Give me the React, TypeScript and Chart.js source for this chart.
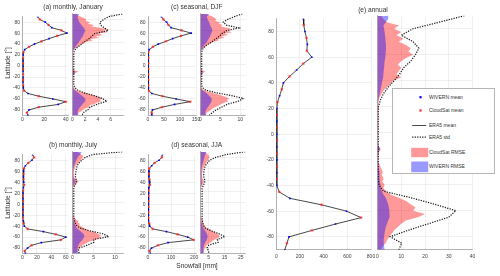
import React, { useEffect, useRef } from "react";
import { Chart, registerables } from "chart.js";

Chart.register(...registerables);

const FONT = "'Liberation Sans', Arial, Helvetica, sans-serif";

// ---------------- data ----------------
const LAT5 = [90, 85, 80, 75, 70, 65, 60, 55, 50, 45, 40, 35, 30, 25, 20, 15, 10, 5, 0, -5, -10, -15, -20, -25, -30, -35, -40, -45, -50, -55, -60, -65, -70, -75, -80, -85, -90];
const LAT25 = [90, 87.5, 85, 82.5, 80, 77.5, 75, 72.5, 70, 67.5, 65, 62.5, 60, 57.5, 55, 52.5, 50, 47.5, 45, 42.5, 40, 37.5, 35, 32.5, 30, 27.5, 25, 22.5, 20, 17.5, 15, 12.5, 10, 7.5, 5, 2.5, 0, -2.5, -5, -7.5, -10, -12.5, -15, -17.5, -20, -22.5, -25, -27.5, -30, -32.5, -35, -37.5, -40, -42.5, -45, -47.5, -50, -52.5, -55, -57.5, -60, -62.5, -65, -67.5, -70, -72.5, -75, -77.5, -80, -82.5, -85, -87.5, -90];
const LAT_TICKS = [-80, -60, -40, -20, 0, 20, 40, 60, 80];

// (a) monthly, January
const JAN_MEAN = [14, 16, 21, 24, 27, 36, 41, 32, 24.5, 17.5, 11, 6, 2, 0.8, 0.5, 0.4, 0.4, 0.4, 0.4, 0.4, 0.4, 0.5, 0.4, 0.4, 0.4, 0.5, 0.7, 1.5, 5, 15, 28, 40, 33, 15, 6, 4, 5];
const JAN_STD = [7.8, 5.7, 4.9, 4.3, 4.4, 5.0, 5.6, 3.5, 3.0, 2.5, 1.8, 1.3, 0.7, 0.3, 0.2, 0.2, 0.2, 0.2, 0.2, 0.2, 0.2, 0.2, 0.2, 0.2, 0.2, 0.2, 0.3, 0.8, 1.8, 3.4, 4.7, 5.4, 3.9, 2.8, 2.4, 1.7, 1.5];
const JAN_RMSE_CS = [0.5, 0.8, 1.2, 1.8, 2.2, 2.0, 2.8, 2.4, 3.4, 3.0, 4.5, 5.8, 4.8, 5.5, 4.0, 4.8, 3.6, 4.2, 2.8, 3.2, 2.0, 1.8, 1.2, 1.0, 0.6, 0.3, 0.15,
  0.1, 0.1, 0.1, 0.1, 0.1, 0.1, 0.1, 0.1, 0.1, 0.1, 0.1, 0.1, 0.1,
  0.3, 1.0, 0.4, 0.1, 0.1, 0.1, 0.1, 0.1, 0.1, 0.1, 0.1, 0.15, 0.2, 0.3, 0.6, 1.2, 2.0, 2.8, 3.6, 4.2, 4.8, 4.2, 4.6, 3.8, 3.4, 2.6, 2.8, 2.0, 1.6, 1.4, 1.0, 0.8, 0.6];
const JAN_RMSE_WV = [1.1, 0.8, 0.9, 1.1, 1.4, 1.8, 2.0, 1.8, 1.6, 1.3, 1.0, 0.7, 0.4, 0.15, 0.05, 0.05, 0.05, 0.05, 0.05, 0.05, 0.15, 0.4, 0.05, 0.05, 0.05, 0.05, 0.1, 0.3, 0.9, 1.5, 2.0, 2.0, 1.6, 1.2, 0.9, 0.8, 1.0];
const JAN_X_TICKS = [0, 20, 40];
const JAN_R_TICKS = [0, 2, 4, 6];

// (b) monthly, July
const JUL_MEAN = [14, 16, 13, 8, 4, 2, 1.3, 1.2, 1.2, 1.3, 1.8, 2.2, 1.2, 0.6, 0.4, 0.4, 0.4, 0.4, 0.4, 0.4, 0.4, 0.4, 0.4, 0.5, 0.8, 1.6, 2.5, 7, 29, 46, 60, 53, 26, 12.5, 7, 3, 4];
const JUL_STD = [11.7, 4.8, 3.0, 2.2, 1.5, 1.1, 0.9, 0.8, 0.7, 0.7, 0.9, 0.9, 0.5, 0.3, 0.3, 0.3, 0.3, 0.3, 0.3, 0.3, 0.3, 0.3, 0.3, 0.3, 0.4, 0.6, 0.9, 1.8, 4.2, 7.2, 8.5, 5.0, 5.0, 3.5, 1.6, 1.4, 1.6];
const JUL_RMSE_CS = [1.0, 1.6, 2.0, 2.6, 2.4, 2.2, 2.0, 1.6, 1.4, 1.0, 0.8, 0.6, 0.5, 0.4, 0.3, 0.3, 0.3, 0.4, 0.4, 0.6, 1.0, 1.4, 1.1, 0.6, 0.5, 0.2, 0.1,
  0.1, 0.1, 0.1, 0.1, 0.1, 0.1, 0.1, 0.1, 0.1, 0.1, 0.1, 0.1, 0.1,
  0.1, 0.1, 0.1, 0.1, 0.1, 0.2, 0.3, 0.6, 0.8, 1.4, 1.2, 1.8, 1.5, 2.2, 2.8, 3.4, 4.0, 5.2, 6.0, 6.8, 6.2, 7.0, 5.4, 4.6, 3.6, 3.0, 2.4, 2.0, 1.6, 1.4, 1.2, 1.0, 0.9];
const JUL_RMSE_WV = [2.2, 1.8, 1.2, 0.9, 0.6, 0.4, 0.2, 0.15, 0.15, 0.2, 0.5, 0.6, 0.2, 0.05, 0.05, 0.05, 0.05, 0.05, 0.05, 0.05, 0.05, 0.05, 0.05, 0.05, 0.2, 0.4, 0.6, 1.0, 1.8, 2.6, 2.8, 2.4, 1.8, 1.4, 1.2, 1.2, 1.5];
const JUL_X_TICKS = [0, 20, 40, 60];
const JUL_R_TICKS = [0, 5, 10];

// (c) seasonal, DJF
const DJF_MEAN = [42, 48, 58, 64, 72, 105, 135, 103, 77, 56, 32, 15, 4, 1.5, 1, 1, 1, 1, 1, 1, 1, 1, 1, 1, 1, 1, 1.5, 3, 12, 45, 88, 132, 83, 44, 14, 11, 12];
const DJF_STD = [10.5, 8.5, 6.8, 5.7, 6.5, 9.6, 6.5, 5.4, 4.7, 3.8, 2.8, 1.6, 0.8, 0.4, 0.3, 0.3, 0.3, 0.3, 0.3, 0.3, 0.3, 0.3, 0.3, 0.3, 0.3, 0.3, 0.4, 1.2, 4.0, 7.8, 10.8, 9.4, 6.8, 5.4, 4.0, 3.0, 2.2];
const DJF_RMSE_CS = [1.2, 2.2, 3.0, 3.6, 4.0, 3.6, 5.0, 4.6, 5.6, 5.0, 7.0, 7.8, 6.6, 8.0, 6.0, 7.0, 5.2, 6.0, 4.4, 4.6, 3.0, 2.6, 1.8, 1.4, 0.8, 0.4, 0.2,
  0.15, 0.15, 0.15, 0.15, 0.15, 0.15, 0.15, 0.15, 0.15, 0.15, 0.15, 0.15, 0.15,
  0.4, 1.3, 0.5, 0.2, 0.15, 0.15, 0.15, 0.15, 0.2, 0.2, 0.2, 0.3, 0.3, 0.4, 0.8, 1.8, 3.0, 4.2, 5.5, 6.4, 7.2, 6.6, 7.0, 6.0, 5.2, 4.6, 3.8, 3.2, 2.6, 2.2, 1.6, 1.4, 1.2];
const DJF_RMSE_WV = [2.2, 1.6, 1.8, 2.2, 2.4, 2.8, 3.0, 2.7, 2.4, 2.0, 1.6, 1.0, 0.5, 0.2, 0.1, 0.1, 0.1, 0.1, 0.1, 0.1, 0.2, 0.6, 0.1, 0.1, 0.1, 0.1, 0.15, 0.4, 1.4, 2.2, 2.8, 2.8, 2.4, 1.9, 1.4, 1.2, 1.4];
const DJF_X_TICKS = [0, 50, 100, 150];
const DJF_R_TICKS = [0, 5, 10];

// (d) seasonal, JJA
const JJA_MEAN = [62, 60, 48, 28, 16, 6, 4, 4, 4, 5, 7, 8, 4, 2, 2, 2, 2, 2, 2, 2, 2, 2, 2, 2, 2.5, 5, 7, 20, 80, 128, 172, 198, 87, 43, 15, 7, 10];
const JJA_STD = [28, 16, 9.5, 5.8, 4.2, 2.9, 2.4, 2.1, 2.0, 2.1, 2.6, 2.6, 1.6, 1.0, 1.0, 1.0, 1.0, 1.0, 1.0, 1.0, 1.0, 1.0, 1.0, 1.0, 1.1, 1.4, 1.8, 3.0, 7.0, 11.5, 15.2, 10.5, 11.0, 5.2, 4.0, 5.0, 5.2];
const JJA_RMSE_CS = [2.5, 3.5, 4.5, 5.5, 5.5, 5.0, 5.0, 4.0, 3.5, 3.0, 2.4, 2.0, 1.5, 1.2, 1.0, 1.0, 0.9, 1.0, 1.0, 1.4, 1.8, 2.2, 2.0, 1.4, 1.0, 0.5, 0.3,
  0.2, 0.2, 0.2, 0.2, 0.2, 0.2, 0.2, 0.2, 0.2, 0.2, 0.2, 0.2, 0.2,
  0.2, 0.3, 0.2, 0.2, 0.2, 0.3, 0.5, 0.8, 1.0, 1.4, 1.6, 2.0, 2.2, 3.0, 4.0, 5.5, 7.5, 9.0, 10.5, 11.5, 12.0, 11.0, 9.0, 7.5, 6.5, 5.0, 4.0, 3.4, 2.8, 2.4, 2.0, 1.8, 1.8];
const JJA_RMSE_WV = [3.6, 3.0, 2.4, 2.0, 1.5, 1.0, 0.6, 0.5, 0.5, 0.5, 0.9, 1.0, 0.5, 0.2, 0.1, 0.1, 0.1, 0.1, 0.1, 0.1, 0.1, 0.1, 0.1, 0.1, 0.4, 0.7, 1.0, 1.8, 3.0, 4.0, 4.5, 4.0, 3.0, 2.2, 1.8, 1.8, 2.0];
const JJA_X_TICKS = [0, 100, 200];
const JJA_R_TICKS = [5, 15, 25];

// (e) annual
const ANN_MEAN = [228, 232, 242, 255, 262, 258, 300, 228, 172, 112, 60, 46, 28, 10, 5, 4, 4, 4, 4, 4, 4, 4, 4, 4, 4, 4, 5, 25, 115, 382, 594, 716, 500, 300, 107, 90, 72];
const ANN_STD = [36.6, 26, 15, 10, 15, 17.4, 16, 14, 11, 9.3, 7, 4.5, 2.5, 1.2, 0.4, 0.3, 0.3, 0.3, 0.3, 0.3, 0.3, 0.3, 0.3, 0.3, 0.3, 0.3, 0.6, 2.5, 14, 24, 33, 30, 21.5, 13, 5.3, 10.2, 9];
const ANN_RMSE_CS = [1.5, 2.5, 4, 9, 7, 10, 8, 11, 9, 12, 14, 13, 15, 12, 10, 8.5, 10, 9, 8, 10, 6.5, 5.5, 4, 2.5, 1.8, 1.0, 0.5,
  0.3, 0.3, 0.3, 0.3, 0.3, 0.3, 0.3, 0.3, 0.3, 0.3, 0.3, 0.3, 0.3,
  0.6, 1.4, 0.6, 0.3, 0.3, 0.6, 1.0, 1.5, 2.2, 1.8, 2.6, 2.0, 3.0, 2.4, 3.8, 5.5, 9, 12, 14, 16, 15, 20, 17, 12, 10, 8.5, 7, 6, 5, 4, 3.5, 2, 1.5];
const ANN_RMSE_WV = [4.5, 4.5, 3.5, 2.5, 2.8, 3.0, 3.2, 3.4, 3.5, 3.6, 3.6, 3.5, 3.4, 3.2, 3.0, 2.8, 2.8, 2.6, 2.4, 2.4, 2.0, 1.8, 1.5, 1.2, 0.9, 0.6, 0.3,
  0.2, 0.2, 0.2, 0.2, 0.2, 0.2, 0.2, 0.2, 0.2, 0.2, 0.2, 0.2, 0.2,
  0.4, 1.1, 0.4, 0.2, 0.2, 0.3, 0.4, 0.6, 0.8, 0.8, 1.0, 1.0, 1.2, 1.3, 1.8, 2.5, 3.5, 4.0, 4.5, 4.8, 5.0, 5.2, 5.0, 4.5, 4.0, 3.5, 3.2, 3.0, 2.8, 2.6, 2.6, 2.8, 3.0];
const ANN_X_TICKS = [0, 200, 400, 600, 800];
const ANN_R_TICKS = [0, 10, 20, 30, 40];

// ---------------- styles ----------------
const C_MEAN = "#1a1a1a";
const C_WV_MARK = "#0000ff";
const C_CS_MARK = "#ff2a2a";
const C_CS_FILL = "rgba(255,0,0,0.4)";
const C_WV_FILL = "rgba(0,0,255,0.4)";
const GRID = "#e6e6e6";
const AXIS = "#a0a0a0";
const TICK = "#404040";

type Box = { x: number; y: number; w: number; h: number };

function geom(box: Box, LM: number, R: number, BM: number) {
  const cx = Math.floor(box.x - LM);
  const cy = Math.floor(box.y - 1);
  const cw = Math.ceil(box.x + box.w + R) - cx;
  const ch = Math.ceil(box.y + box.h + BM) - cy;
  return {
    cx, cy, cw, ch,
    pl: box.x - LM - cx,
    pt: box.y - cy,
    pr: cx + cw - (box.x + box.w),
    pb: cy + ch - (box.y + box.h + BM),
  };
}

function Axes(props: { box: Box; left: boolean; xMax: number; xTicks: number[]; datasets: any[]; tickPad: number }) {
  const ref = useRef<HTMLCanvasElement | null>(null);
  const LM = props.left ? 20 : 3;
  const R = 7;
  const BM = 10;
  const g = geom(props.box, LM, R, BM);
  useEffect(() => {
    const chart = new Chart(ref.current as HTMLCanvasElement, {
      type: "line",
      data: { datasets: props.datasets },
      options: {
        indexAxis: "y",
        responsive: false,
        animation: false,
        devicePixelRatio: 1,
        events: [],
        layout: { padding: { left: g.pl, top: g.pt, right: g.pr, bottom: g.pb } },
        plugins: { legend: { display: false }, title: { display: false }, tooltip: { enabled: false }, filler: { propagate: false } },
        scales: {
          x: {
            type: "linear",
            position: "bottom",
            min: 0,
            max: props.xMax,
            offset: false,
            afterBuildTicks: (s: any) => { s.ticks = props.xTicks.map((v) => ({ value: v })); },
            afterFit: (s: any) => { s.height = BM; s.paddingLeft = 0; s.paddingRight = 0; },
            ticks: { font: { size: 5, family: FONT }, color: TICK, padding: props.tickPad, autoSkip: false, maxRotation: 0 },
            grid: { color: GRID, lineWidth: 0.6, drawTicks: false, offset: false },
            border: { color: AXIS, width: 0.8 },
          },
          y: {
            type: "linear",
            position: "left",
            min: -90,
            max: 90,
            offset: false,
            afterBuildTicks: (s: any) => { s.ticks = LAT_TICKS.map((v) => ({ value: v })); },
            afterFit: (s: any) => { s.width = LM; s.paddingTop = 0; s.paddingBottom = 0; },
            ticks: { display: props.left, font: { size: 5, family: FONT }, color: TICK, padding: 2.5, autoSkip: false },
            grid: { color: GRID, lineWidth: 0.6, drawTicks: false, offset: false },
            border: { color: AXIS, width: 0.8 },
          },
        },
      } as any,
    });
    return () => chart.destroy();
  }, []);
  return (
    <canvas
      ref={ref}
      width={g.cw}
      height={g.ch}
      style={{ position: "absolute", left: g.cx, top: g.cy, width: g.cw, height: g.ch }}
    />
  );
}

function meanSets(lat: number[], mean: number[]) {
  const pts = lat.map((y, i) => ({ x: mean[i], y }));
  return [
    { data: pts, borderColor: C_MEAN, borderWidth: 0.8, pointRadius: 0, fill: false, order: 3 },
    {
      showLine: false, data: lat.map((y, i) => ({ x: mean[i], y })).filter((_, i) => i % 2 === 0),
      pointStyle: "rect", pointRadius: 1.15, backgroundColor: C_WV_MARK, borderColor: C_WV_MARK, borderWidth: 0, order: 2,
    },
    {
      showLine: false, data: lat.map((y, i) => ({ x: mean[i], y })).filter((_, i) => i % 2 === 1),
      pointStyle: "star", pointRadius: 1.3, borderColor: C_CS_MARK, backgroundColor: C_CS_MARK, borderWidth: 0.7, order: 1,
    },
  ];
}

function spreadSets(lat: number[], std: number[], csLat: number[], cs: number[], wvLat: number[], wv: number[]) {
  return [
    {
      data: csLat.map((y, i) => ({ x: cs[i], y })), borderWidth: 0, borderColor: "rgba(0,0,0,0)",
      backgroundColor: C_CS_FILL, fill: "origin", pointRadius: 0, order: 5,
    },
    {
      data: wvLat.map((y, i) => ({ x: wv[i], y })), borderWidth: 0, borderColor: "rgba(0,0,0,0)",
      backgroundColor: C_WV_FILL, fill: "origin", pointRadius: 0, order: 4,
    },
    {
      data: lat.map((y, i) => ({ x: std[i], y })), borderColor: "#111111", fill: false,
      borderWidth: 1.2, borderDash: [1.2, 1.3], pointRadius: 0, order: 1,
    },
  ];
}

type PanelCfg = {
  title: string; titleX: number; titleY: number; tickPad: number;
  L: Box; R: Box; lMax: number; rMax: number; lTicks: number[]; rTicks: number[];
  lat: number[]; mean: number[]; std: number[]; csLat: number[]; cs: number[]; wvLat: number[]; wv: number[];
};

const PANELS: PanelCfg[] = [
  {
    title: "(a) monthly, January", titleX: 73, titleY: 6.7, tickPad: 0.8,
    L: { x: 22.5, y: 13.8, w: 45.5, h: 101.6 }, R: { x: 72.5, y: 13.8, w: 51, h: 101.6 },
    lMax: 42, rMax: 8, lTicks: JAN_X_TICKS, rTicks: JAN_R_TICKS,
    lat: LAT5, mean: JAN_MEAN, std: JAN_STD, csLat: LAT25, cs: JAN_RMSE_CS, wvLat: LAT5, wv: JAN_RMSE_WV,
  },
  {
    title: "(b) monthly, July", titleX: 73, titleY: 145, tickPad: 1.2,
    L: { x: 22.5, y: 151.7, w: 45.5, h: 101.9 }, R: { x: 72.5, y: 151.7, w: 51, h: 101.9 },
    lMax: 63, rMax: 12, lTicks: JUL_X_TICKS, rTicks: JUL_R_TICKS,
    lat: LAT5, mean: JUL_MEAN, std: JUL_STD, csLat: LAT25, cs: JUL_RMSE_CS, wvLat: LAT5, wv: JUL_RMSE_WV,
  },
  {
    title: "(c) seasonal, DJF", titleX: 196.8, titleY: 6.7, tickPad: 0.8,
    L: { x: 148, y: 13.8, w: 48, h: 101.6 }, R: { x: 200.5, y: 13.8, w: 45, h: 101.6 },
    lMax: 150, rMax: 11.3, lTicks: DJF_X_TICKS, rTicks: DJF_R_TICKS,
    lat: LAT5, mean: DJF_MEAN, std: DJF_STD, csLat: LAT25, cs: DJF_RMSE_CS, wvLat: LAT5, wv: DJF_RMSE_WV,
  },
  {
    title: "(d) seasonal, JJA", titleX: 196.8, titleY: 145, tickPad: 1.2,
    L: { x: 148, y: 151.7, w: 48, h: 101.9 }, R: { x: 200.5, y: 151.7, w: 45, h: 101.9 },
    lMax: 208, rMax: 28, lTicks: JJA_X_TICKS, rTicks: JJA_R_TICKS,
    lat: LAT5, mean: JJA_MEAN, std: JJA_STD, csLat: LAT25, cs: JJA_RMSE_CS, wvLat: LAT5, wv: JJA_RMSE_WV,
  },
  {
    title: "(e) annual", titleX: 373, titleY: 9.5, tickPad: 3.5,
    L: { x: 276.3, y: 15.7, w: 94.7, h: 234 }, R: { x: 377.5, y: 15.7, w: 95, h: 234 },
    lMax: 800, rMax: 40, lTicks: ANN_X_TICKS, rTicks: ANN_R_TICKS,
    lat: LAT5, mean: ANN_MEAN, std: ANN_STD, csLat: LAT25, cs: ANN_RMSE_CS, wvLat: LAT25, wv: ANN_RMSE_WV,
  },
];

function Text(props: { x: number; y: number; size: number; children: any; rotate?: boolean; align?: "center" | "left" }) {
  const tx = props.align === "left" ? "0" : "-50%";
  return (
    <div
      style={{
        position: "absolute", left: props.x, top: props.y, fontFamily: FONT, fontSize: props.size,
        lineHeight: 1, color: "#333", whiteSpace: "nowrap",
        transform: `translate(${tx}, -50%)${props.rotate ? " rotate(-90deg)" : ""}`,
        transformOrigin: props.align === "left" ? "0 50%" : "50% 50%",
      }}
    >
      {props.children}
    </div>
  );
}

function Legend() {
  const bx = 391.5, by = 87.5, bw = 103, bh = 86.5;
  const rows = [
    { y: 96.7, label: "WIVERN mean" },
    { y: 110, label: "CloudSat mean" },
    { y: 125, label: "ERA5 mean" },
    { y: 136.7, label: "ERA5 std" },
    { y: 152, label: "CloudSat RMSE" },
    { y: 166.3, label: "WIVERN RMSE" },
  ];
  return (
    <>
      <div style={{ position: "absolute", left: bx, top: by, width: bw, height: bh, boxSizing: "border-box", border: "1px solid #b5b5b5", background: "#fff" }} />
      <svg width={bw} height={bh} style={{ position: "absolute", left: bx, top: by }}>
        <rect x={420 - 1.1 - bx} y={96.7 - 1.1 - by} width={2.2} height={2.2} fill={C_WV_MARK} />
        <g stroke={C_CS_MARK} strokeWidth={0.7}>
          <line x1={420 - 1.4 - bx} y1={110 - by} x2={420 + 1.4 - bx} y2={110 - by} />
          <line x1={420 - bx} y1={110 - 1.4 - by} x2={420 - bx} y2={110 + 1.4 - by} />
          <line x1={420 - 1 - bx} y1={110 - 1 - by} x2={420 + 1 - bx} y2={110 + 1 - by} />
          <line x1={420 - 1 - bx} y1={110 + 1 - by} x2={420 + 1 - bx} y2={110 - 1 - by} />
        </g>
        <line x1={411.7 - bx} y1={125 - by} x2={425.7 - bx} y2={125 - by} stroke={C_MEAN} strokeWidth={0.8} />
        <line x1={411.7 - bx} y1={136.7 - by} x2={425.7 - bx} y2={136.7 - by} stroke="#111" strokeWidth={1.2} strokeDasharray="1.2 1.3" />
        <rect x={410.7 - bx} y={147.3 - by} width={17} height={9.4} fill={C_CS_FILL} />
        <rect x={410.7 - bx} y={161 - by} width={17} height={10.7} fill={C_WV_FILL} />
      </svg>
      {rows.map((r) => (
        <Text key={r.label} x={429} y={r.y} size={5} align="left">{r.label}</Text>
      ))}
    </>
  );
}

export default function App() {
  return (
    <div style={{ position: "absolute", left: 0, top: 0, width: 500, height: 276, background: "#fff", overflow: "hidden" }}>
      {PANELS.map((p, k) => (
        <React.Fragment key={k}>
          <Axes box={p.L} left={true} xMax={p.lMax} xTicks={p.lTicks} tickPad={p.tickPad} datasets={meanSets(p.lat, p.mean)} />
          <Axes box={p.R} left={false} xMax={p.rMax} xTicks={p.rTicks} tickPad={p.tickPad} datasets={spreadSets(p.lat, p.std, p.csLat, p.cs, p.wvLat, p.wv)} />
          <Text x={p.titleX} y={p.titleY} size={6.6}>{p.title}</Text>
        </React.Fragment>
      ))}
      <Text x={8.3} y={63} size={6.6} rotate>Latitude [°]</Text>
      <Text x={8.3} y={203} size={6.6} rotate>Latitude [°]</Text>
      <Text x={197} y={266} size={6.6}>Snowfall [mm]</Text>
      <Legend />
    </div>
  );
}
